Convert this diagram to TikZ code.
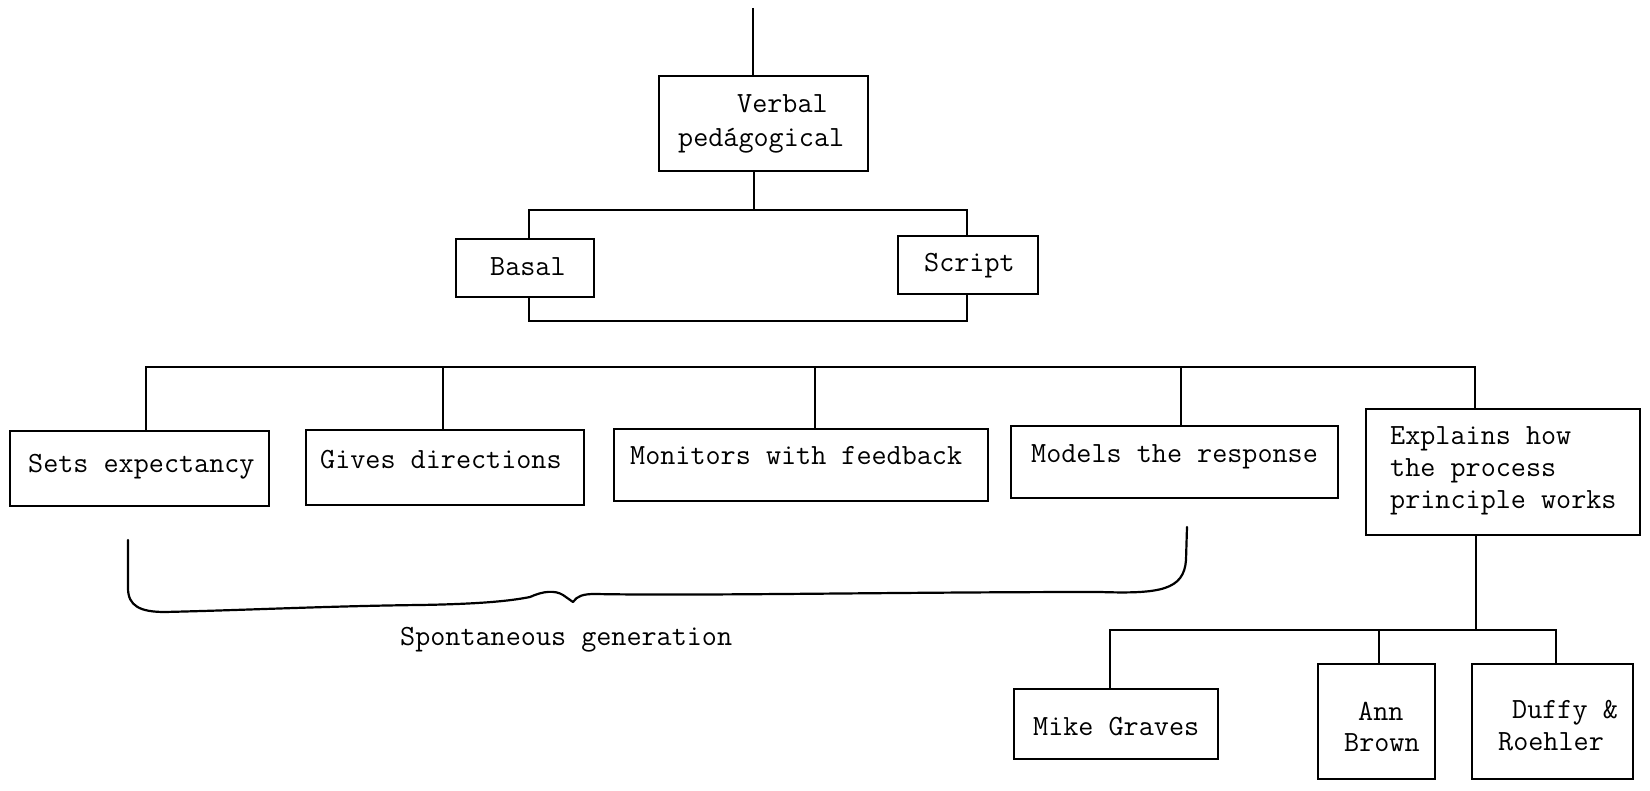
\documentclass[tikz,border=0pt]{standalone}
\usepackage{fontspec}
\tikzset{
  box/.style={draw, line width=2.4pt, rectangle, inner sep=0pt, anchor=north west},
  txt/.style={inner sep=0pt, anchor=base west, font=\ttfamily\fontsize{29.3}{31.5}\selectfont},
  conn/.style={line width=2.4pt, line join=miter},
  bracel/.style={line width=2.2pt, line cap=round, line join=round}
}
\begin{document}
\begin{tikzpicture}[x=1pt,y=-1pt]
\useasboundingbox[fill=white] (0,0) rectangle (1650,791);

% boxes
\node[box, minimum width=209pt, minimum height=95pt] (verbal) at (658,75) {};
\node[box, minimum width=138pt, minimum height=58pt] (basal) at (455,238) {};
\node[box, minimum width=140pt, minimum height=58pt] (script) at (897,235) {};
\node[box, minimum width=259pt, minimum height=75pt] (sets) at (9,430) {};
\node[box, minimum width=278pt, minimum height=75pt] (gives) at (305,429) {};
\node[box, minimum width=374pt, minimum height=72pt] (monitors) at (613,428) {};
\node[box, minimum width=327pt, minimum height=72pt] (models) at (1010,425) {};
\node[box, minimum width=274pt, minimum height=126pt] (explains) at (1365,408) {};
\node[box, minimum width=204pt, minimum height=70pt] (mike) at (1013,688) {};
\node[box, minimum width=117pt, minimum height=115pt] (ann) at (1317,663) {};
\node[box, minimum width=161pt, minimum height=115pt] (duffy) at (1471,663) {};

% texts
\node[txt] (tverbal1) at (737,113) {Verbal};
\node[txt] (tverbal2) at (678,147) {pedágogical};
\node[txt] (tbasal) at (490,276) {Basal};
\node[txt] (tscript) at (924,272) {Script};
\node[txt] (tsets) at (28,472) {Sets expectancy};
\node[txt] (tgives) at (320,469) {Gives directions};
\node[txt] (tmon) at (630,465) {Monitors with feedback};
\node[txt] (tmod) at (1031,463) {Models the response};
\node[txt] (texp1) at (1390,445) {Explains how};
\node[txt] (texp2) at (1390,477) {the process};
\node[txt] (texp3) at (1390,508) {principle works};
\node[txt] (tmike) at (1033,735) {Mike Graves};
\node[txt] (tann1) at (1358,720) {Ann};
\node[txt] (tann2) at (1344,751) {Brown};
\node[txt] (tduf1) at (1512,718) {Duffy \&};
\node[txt] (tduf2) at (1498,750) {Roehler};
\node[txt] (tspont) at (400,645) {Spontaneous generation};

% top connectors
\coordinate (topend) at (753,8);
\draw[conn] (topend) -- (topend |- verbal.north);
\coordinate (j1) at (754,210);
\draw[conn] (j1 |- verbal.south) -- (j1);
\coordinate (bL) at (529,210);
\coordinate (bR) at (967,210);
\draw[conn] (bL |- basal.north) -- (bL) -- (bR) -- (bR |- script.north);
\coordinate (lL) at (529,321);
\coordinate (lR) at (967,321);
\draw[conn] (lL |- basal.south) -- (lL) -- (lR) -- (lR |- script.south);

% main bar
\coordinate (m1) at (146,367);
\coordinate (m2) at (443,367);
\coordinate (m3) at (815,367);
\coordinate (m4) at (1181,367);
\coordinate (m5) at (1475,367);
\draw[conn] (m1 |- sets.north) -- (m1) -- (m5) -- (m5 |- explains.north);
\draw[conn] (m2) -- (m2 |- gives.north);
\draw[conn] (m3) -- (m3 |- monitors.north);
\draw[conn] (m4) -- (m4 |- models.north);

% lower bar
\coordinate (n0) at (1476,630);
\coordinate (n1) at (1110,630);
\coordinate (n2) at (1379,630);
\coordinate (n3) at (1556,630);
\draw[conn] (n0 |- explains.south) -- (n0);
\draw[conn] (n1 |- mike.north) -- (n1) -- (n3) -- (n3 |- duffy.north);
\draw[conn] (n2) -- (n2 |- ann.north);

% brace
\coordinate (br1) at (128,540);
\coordinate (br2) at (1187,527);
\draw[bracel] (br1) -- (128,588) .. controls (128,606) and (140,612) .. (165,612)
  .. controls (250,610) and (330,606) .. (420,605)
  .. controls (480,604) and (510,601) .. (530,597)
  .. controls (543,591) and (555,590) .. (563,595)
  -- (573,602)
  .. controls (577,596) and (583,594) .. (595,594)
  .. controls (700,596) and (900,592) .. (1100,592)
  .. controls (1160,594) and (1184,590) .. (1186,560) -- (br2);
\end{tikzpicture}
\end{document}
